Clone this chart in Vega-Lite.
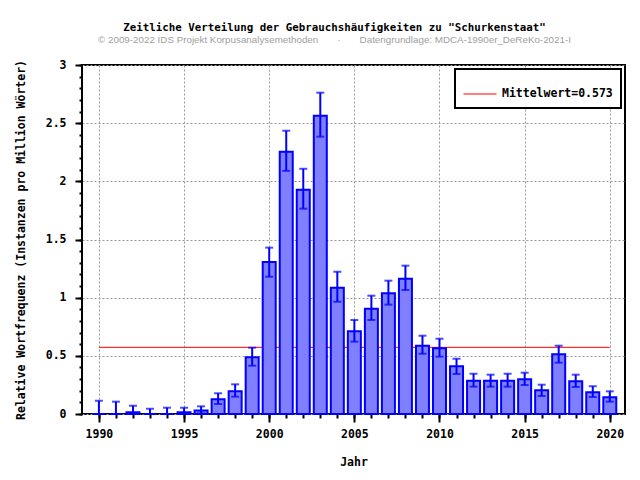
{
  "$schema": "https://vega.github.io/schema/vega-lite/v6.json",
  "autosize": {"type": "none"},
  "padding": {"left": 82, "top": 65, "right": 15, "bottom": 66},
  "width": 543,
  "height": 349,
  "background": "white",
  "title": {
    "text": "Zeitliche Verteilung der Gebrauchshäufigkeiten zu \"Schurkenstaat\"",
    "subtitle": "© 2009-2022 IDS Projekt Korpusanalysemethoden \u00a0\u00a0\u00a0\u00a0\u00a0\u00a0· \u00a0\u00a0\u00a0\u00a0\u00a0\u00a0Datengrundlage: MDCA-1990er_DeReKo-2021-I",
    "anchor": "middle",
    "dx": -19,
    "offset": 14,
    "font": "DejaVu Sans Mono",
    "fontSize": 10.8,
    "fontWeight": "bold",
    "color": "black",
    "subtitleFont": "Liberation Sans",
    "subtitleFontSize": 9.8,
    "subtitleColor": "#a0a0a0",
    "subtitlePadding": 2
  },
  "config": {
    "view": {"stroke": "black", "strokeWidth": 2},
    "axis": {
      "labelFont": "DejaVu Sans Mono",
      "labelFontSize": 11.5,
      "labelFontWeight": "bold",
      "labelColor": "black",
      "titleFont": "DejaVu Sans Mono",
      "titleFontSize": 11.5,
      "titleFontWeight": "bold",
      "titleColor": "black",
      "tickColor": "black",
      "tickWidth": 2,
      "domain": false,
      "gridColor": "#999999",
      "gridDash": [2, 2],
      "gridWidth": 1
    }
  },
  "datasets": {
    "freq": [
      {"year": 1990, "value": 0, "lo": 0, "hi": 0.114},
      {"year": 1991, "value": 0, "lo": 0, "hi": 0.106},
      {"year": 1992, "value": 0.015, "lo": 0, "hi": 0.071},
      {"year": 1993, "value": 0, "lo": 0, "hi": 0.045},
      {"year": 1994, "value": 0, "lo": 0, "hi": 0.054},
      {"year": 1995, "value": 0.015, "lo": 0, "hi": 0.054},
      {"year": 1996, "value": 0.03, "lo": 0.005, "hi": 0.066},
      {"year": 1997, "value": 0.126, "lo": 0.086, "hi": 0.178},
      {"year": 1998, "value": 0.195, "lo": 0.149, "hi": 0.255},
      {"year": 1999, "value": 0.487, "lo": 0.415, "hi": 0.57},
      {"year": 2000, "value": 1.306, "lo": 1.18, "hi": 1.43},
      {"year": 2001, "value": 2.255, "lo": 2.09, "hi": 2.435},
      {"year": 2002, "value": 1.928, "lo": 1.765, "hi": 2.108},
      {"year": 2003, "value": 2.564, "lo": 2.384, "hi": 2.762},
      {"year": 2004, "value": 1.086, "lo": 0.965, "hi": 1.223},
      {"year": 2005, "value": 0.711, "lo": 0.622, "hi": 0.808},
      {"year": 2006, "value": 0.905, "lo": 0.808, "hi": 1.017},
      {"year": 2007, "value": 1.037, "lo": 0.94, "hi": 1.146},
      {"year": 2008, "value": 1.163, "lo": 1.066, "hi": 1.275},
      {"year": 2009, "value": 0.587, "lo": 0.518, "hi": 0.673},
      {"year": 2010, "value": 0.565, "lo": 0.493, "hi": 0.647},
      {"year": 2011, "value": 0.41, "lo": 0.344, "hi": 0.475},
      {"year": 2012, "value": 0.286, "lo": 0.235, "hi": 0.346},
      {"year": 2013, "value": 0.286, "lo": 0.235, "hi": 0.338},
      {"year": 2014, "value": 0.286, "lo": 0.235, "hi": 0.346},
      {"year": 2015, "value": 0.298, "lo": 0.249, "hi": 0.355},
      {"year": 2016, "value": 0.204, "lo": 0.155, "hi": 0.252},
      {"year": 2017, "value": 0.513, "lo": 0.441, "hi": 0.587},
      {"year": 2018, "value": 0.281, "lo": 0.232, "hi": 0.338},
      {"year": 2019, "value": 0.187, "lo": 0.146, "hi": 0.238},
      {"year": 2020, "value": 0.144, "lo": 0.106, "hi": 0.195}
    ],
    "mean": [
      {"start": 1990, "end": 2020, "mean": 0.573, "label": "Mittelwert=0.573"}
    ]
  },
  "layer": [
    {
      "data": {"name": "mean"},
      "mark": {"type": "rule", "strokeWidth": 1},
      "encoding": {
        "x": {
          "field": "start", "type": "quantitative",
          "scale": {"domain": [1989.3, 2020.6], "nice": false, "zero": false},
          "axis": {
            "orient": "bottom",
            "values": [1990,1991,1992,1993,1994,1995,1996,1997,1998,1999,2000,2001,2002,2003,2004,2005,2006,2007,2008,2009,2010,2011,2012,2013,2014,2015,2016,2017,2018,2019,2020],
            "labels": false, "grid": false, "tickSize": 4, "title": null
          }
        },
        "x2": {"field": "end"},
        "y": {
          "field": "mean", "type": "quantitative",
          "scale": {"domain": [0, 3], "nice": false},
          "axis": {
            "orient": "left",
            "values": [0,0.1,0.2,0.3,0.4,0.5,0.6,0.7,0.8,0.9,1,1.1,1.2,1.3,1.4,1.5,1.6,1.7,1.8,1.9,2,2.1,2.2,2.3,2.4,2.5,2.6,2.7,2.8,2.9,3],
            "labels": false, "grid": false, "tickSize": 3, "title": null
          }
        },
        "color": {
          "field": "label", "type": "nominal",
          "scale": {"range": ["#ff0000"]},
          "legend": {
            "title": null,
            "orient": "none",
            "legendX": 373,
            "legendY": 4,
            "symbolType": "stroke",
            "symbolSize": 1089,
            "symbolStrokeWidth": 1,
            "labelFont": "DejaVu Sans Mono",
            "labelFontSize": 11.5,
            "labelFontWeight": "bold",
            "labelColor": "black",
            "labelOffset": 5,
            "padding": 8,
            "fillColor": "white",
            "strokeColor": "black",
            "encode": {"legend": {"update": {"strokeWidth": {"value": 2}}}}
          }
        }
      }
    },
    {
      "data": {"name": "freq"},
      "mark": {"type": "bar", "width": 13, "fill": "#8080ff", "stroke": "#0000ff", "strokeWidth": 2},
      "encoding": {
        "x": {
          "field": "year", "type": "quantitative",
          "axis": {
            "orient": "bottom",
            "values": [1990, 1995, 2000, 2005, 2010, 2015, 2020],
            "format": "d",
            "tickSize": 8,
            "labelPadding": 6,
            "grid": true,
            "title": "Jahr",
            "titlePadding": 17
          }
        },
        "y": {
          "field": "value", "type": "quantitative",
          "axis": {
            "orient": "left",
            "values": [0, 0.5, 1, 1.5, 2, 2.5, 3],
            "format": "~g",
            "tickSize": 7,
            "labelPadding": 9,
            "grid": true,
            "title": "Relative Wortfrequenz (Instanzen pro Million Wörter)",
            "titlePadding": 19
          }
        }
      }
    },
    {
      "data": {"name": "freq"},
      "mark": {"type": "rule", "color": "#0000ff", "strokeWidth": 2},
      "encoding": {
        "x": {"field": "year", "type": "quantitative", "axis": null},
        "y": {"field": "lo", "type": "quantitative", "axis": null},
        "y2": {"field": "hi"}
      }
    },
    {
      "data": {"name": "freq"},
      "mark": {"type": "tick", "orient": "horizontal", "size": 8, "thickness": 2, "color": "#0000ff"},
      "encoding": {
        "x": {"field": "year", "type": "quantitative", "axis": null},
        "y": {"field": "hi", "type": "quantitative", "axis": null}
      }
    },
    {
      "data": {"name": "freq"},
      "mark": {"type": "tick", "orient": "horizontal", "size": 8, "thickness": 2, "color": "#0000ff"},
      "encoding": {
        "x": {"field": "year", "type": "quantitative", "axis": null},
        "y": {"field": "lo", "type": "quantitative", "axis": null}
      }
    }
  ],
  "resolve": {"axis": {"x": "independent", "y": "independent"}}
}
